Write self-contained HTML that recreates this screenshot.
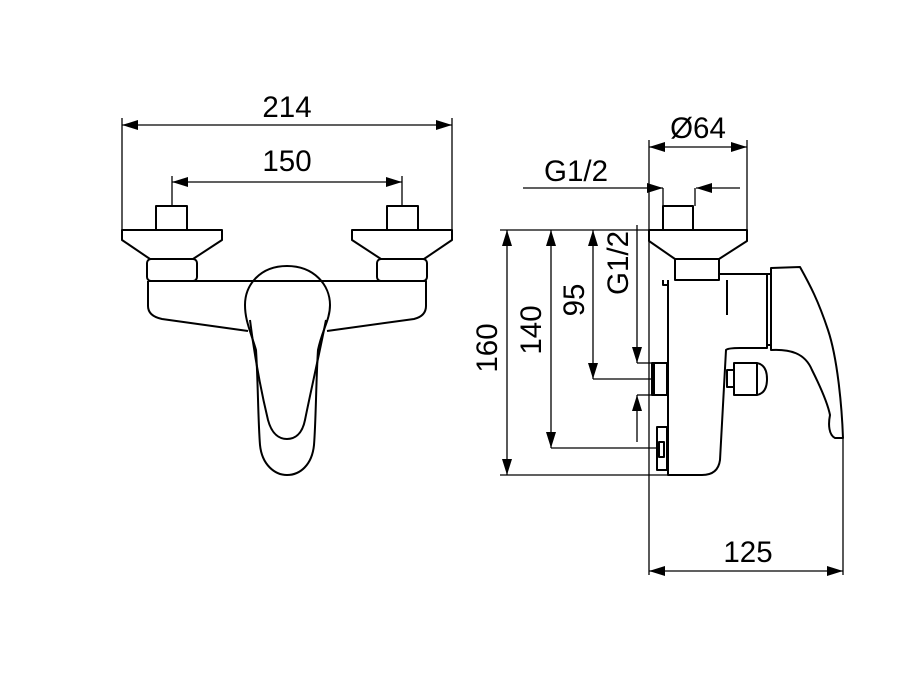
<!DOCTYPE html>
<html><head><style>body{margin:0;background:#fff}svg{display:block}text{font-family:"Liberation Sans",Arial,sans-serif;font-size:29.5px;fill:#000}</style></head><body>
<svg width="912" height="684" viewBox="0 0 912 684" xmlns="http://www.w3.org/2000/svg">
<defs>
<marker id="a" viewBox="0 0 16 10" refX="16" refY="5" markerWidth="16" markerHeight="10" markerUnits="userSpaceOnUse" orient="auto-start-reverse"><path d="M0,0 L16,5 L0,10 Z" fill="#000"/></marker>
</defs>
<g fill="none" stroke="#000" stroke-width="1.3">
<line x1="122" y1="118" x2="122" y2="232"/><line x1="452" y1="118" x2="452" y2="232"/>
<line x1="122" y1="125" x2="452" y2="125" marker-start="url(#a)" marker-end="url(#a)"/>
<line x1="172" y1="176" x2="172" y2="206"/><line x1="402" y1="176" x2="402" y2="206"/>
<line x1="172" y1="182" x2="402" y2="182" marker-start="url(#a)" marker-end="url(#a)"/>
</g>
<text x="287" y="117" text-anchor="middle">214</text>
<text x="287" y="171" text-anchor="middle">150</text>
<g fill="none" stroke="#000" stroke-width="2" stroke-linejoin="round">
<rect x="156" y="206" width="31" height="24"/>
<path d="M122,230 H222 V240 L193,259 H150 L122,240 Z"/>
<rect x="147" y="259" width="50" height="22" rx="4"/>
<rect x="387" y="206" width="31" height="24"/>
<path d="M352,230 H452 V240 L424,259 H381 L352,240 Z"/>
<rect x="377" y="259" width="50" height="22" rx="4"/>
<path d="M148,281 H426 V306 Q426,316 414,319 L327,331"/>
<path d="M148,281 V306 Q148,316 162,319 L248,331"/>
<path d="M287,266 C260,266 245,285 245,305 C245,320 250,330 256,350 C258,380 258,420 260,445 C262,465 275,475 287,475 C300,475 312,465 314,445 C316,420 316,380 318,350 C322,330 330,320 330,305 C330,285 314,266 287,266 Z"/>
<path d="M250,320 C255,360 262,395 268,420 C272,435 280,439 287,439 C294,439 302,435 305,420 C310,395 318,360 326,320"/>
</g>
<g fill="none" stroke="#000" stroke-width="1.3">
<line x1="649" y1="140" x2="649" y2="575"/>
<line x1="747" y1="140" x2="747" y2="230"/>
<line x1="649" y1="147" x2="747" y2="147" marker-start="url(#a)" marker-end="url(#a)"/>
<line x1="523" y1="188" x2="663" y2="188" marker-end="url(#a)"/>
<line x1="740" y1="188" x2="696" y2="188" marker-end="url(#a)"/>
<line x1="663" y1="188" x2="663" y2="206"/><line x1="695" y1="188" x2="695" y2="206"/>
<line x1="500" y1="230" x2="649" y2="230"/>
<line x1="500" y1="475" x2="668" y2="475"/>
<line x1="507" y1="230" x2="507" y2="475" marker-start="url(#a)" marker-end="url(#a)"/>
<line x1="551" y1="230" x2="551" y2="448" marker-start="url(#a)" marker-end="url(#a)"/>
<line x1="551" y1="448" x2="657" y2="448"/>
<line x1="593" y1="230" x2="593" y2="379" marker-start="url(#a)" marker-end="url(#a)"/>
<line x1="593" y1="379" x2="652" y2="379"/>
<line x1="637" y1="225" x2="637" y2="363" marker-end="url(#a)"/>
<line x1="637" y1="442" x2="637" y2="395" marker-end="url(#a)"/>
<line x1="637" y1="363" x2="652" y2="363"/><line x1="637" y1="395" x2="652" y2="395"/>
<line x1="843" y1="437" x2="843" y2="575"/>
<line x1="649" y1="571" x2="843" y2="571" marker-start="url(#a)" marker-end="url(#a)"/>
</g>
<text x="698" y="138" text-anchor="middle">Ø64</text>
<text x="576" y="181" text-anchor="middle">G1/2</text>
<text x="748" y="562" text-anchor="middle">125</text>
<text transform="translate(497,348) rotate(-90)" text-anchor="middle">160</text>
<text transform="translate(541,330) rotate(-90)" text-anchor="middle">140</text>
<text transform="translate(584,300) rotate(-90)" text-anchor="middle">95</text>
<text transform="translate(628,263) rotate(-90)" text-anchor="middle">G1/2</text>
<g fill="none" stroke="#000" stroke-width="2" stroke-linejoin="round">
<rect x="663" y="206" width="30" height="24"/>
<path d="M649,230 H747 V241 L719,259 H675 L649,241 Z"/>
<rect x="675" y="259" width="44" height="21"/>
<path d="M668,280 V475 H702 Q718,475 720,460 L726,350 Q728,348 740,348 H767 V274 H719"/>
<path d="M668,285 H663 V280"/>
<line x1="727" y1="280" x2="727" y2="315"/>
<rect x="767" y="274" width="4" height="71"/>
<path d="M771,268 V350 C790,349 805,353 812,370 C822,390 828,405 830,415 C828,425 829,435 835,438 H843 C842,410 838,360 828,330 C818,300 810,285 800,267 Z"/>
<rect x="727" y="370" width="7" height="17"/>
<path d="M734,363 H757 Q767,365 767,379 Q767,393 757,395 H734 Z"/>
<line x1="757" y1="363" x2="757" y2="395"/>
<rect x="652" y="363" width="15" height="32"/>
<line x1="653.5" y1="363" x2="653.5" y2="395" stroke-width="3"/>
<rect x="657" y="427" width="10" height="43"/>
<rect x="659" y="442" width="5" height="15"/>
</g>
</svg>
</body></html>
